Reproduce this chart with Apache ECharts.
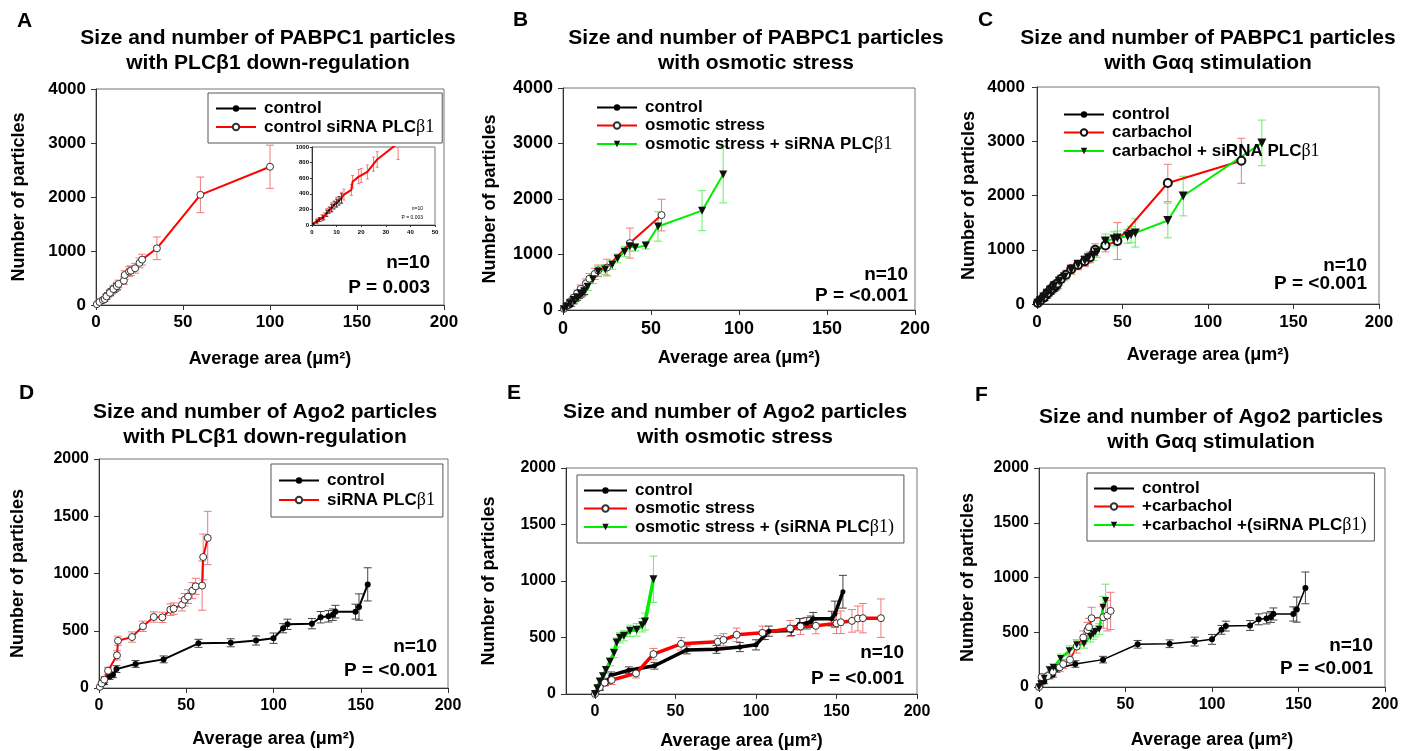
<!DOCTYPE html>
<html><head><meta charset="utf-8">
<script src="https://cdn.jsdelivr.net/npm/echarts@6/dist/echarts.min.js"></script>
<style>html,body{margin:0;padding:0;background:#fff;overflow:hidden}.p{position:absolute;left:0;top:0;width:1413px;height:751px}</style>
</head><body>
<div id="cA" class="p"></div><div id="cB" class="p"></div><div id="cC" class="p"></div>
<div id="cD" class="p"></div><div id="cE" class="p"></div><div id="cF" class="p"></div>
<script>
// ---------- tick labels ----------
const xTicks = [0, 50, 100, 150, 200];
const yTicksPab = [0, 1000, 2000, 3000, 4000];
const yTicksAgo = [0, 500, 1000, 1500, 2000];
const insetXTicks = [0, 10, 20, 30, 40, 50];
const insetYTicks = [0, 200, 400, 600, 800, 1000];

// ---------- PABPC1 control (A, B, C) ----------
const pabCtrlX = [0.5, 2, 3, 4.5, 6, 7, 8, 9, 10, 11, 12];
const pabCtrlY = [15, 45, 70, 95, 150, 190, 220, 255, 280, 310, 340];
const pabCtrlE = [10, 20, 25, 30, 40, 40, 45, 50, 50, 55, 60];

// A: control siRNA PLCβ1
const aSiX = [0.5, 2, 4, 5, 6, 8, 10, 12, 13, 16, 16.5, 19, 20, 22.5, 25, 26.5, 35, 60, 100];
const aSiY = [15, 55, 90, 110, 160, 225, 295, 350, 390, 450, 555, 620, 635, 680, 780, 840, 1050, 2040, 2560];
const aSiE = [10, 30, 40, 45, 50, 60, 60, 70, 70, 70, 80, 90, 90, 90, 90, 100, 210, 330, 400];

// B: osmotic stress
const bOsmX = [0.5, 2, 4, 6, 8, 10, 13, 15, 18, 20, 25, 38, 56];
const bOsmY = [20, 80, 150, 220, 300, 380, 480, 565, 650, 710, 765, 1205, 1710];
const bOsmE = [10, 30, 40, 50, 60, 70, 80, 90, 100, 100, 150, 270, 285];
// B: osmotic stress + siRNA PLCβ1
const bOsmSiX = [0.5, 2, 4, 6, 8, 10, 12, 14, 17, 20, 24, 28, 31, 35, 38, 41, 47, 54, 79, 91];
const bOsmSiY = [15, 60, 120, 180, 230, 300, 340, 420, 555, 690, 730, 815, 930, 1050, 1150, 1125, 1160, 1505, 1790, 2440];
const bOsmSiE = [10, 30, 40, 50, 60, 60, 70, 70, 80, 90, 90, 80, 80, 90, 90, 60, 60, 265, 360, 510];

// C: carbachol
const cCarbX = [0.5, 2, 4, 6, 8, 10, 12, 14, 17, 20, 24, 28, 31, 34, 40, 47, 76.5, 119.5];
const cCarbY = [20, 70, 130, 200, 270, 340, 380, 460, 540, 640, 720, 790, 860, 1000, 1080, 1160, 2230, 2640];
const cCarbE = [10, 30, 40, 50, 60, 60, 70, 70, 80, 90, 90, 100, 100, 110, 120, 340, 345, 415];
// C: carbachol + siRNA PLCβ1
const cCarbSiX = [0.5, 2, 4, 6, 8, 10, 13, 16, 20, 24, 28, 30, 33, 35, 40, 45, 47, 53, 55, 57.5, 76.5, 85.5, 131.5];
const cCarbSiY = [15, 60, 130, 200, 260, 330, 420, 500, 630, 730, 800, 850, 900, 960, 1160, 1200, 1215, 1250, 1280, 1310, 1540, 1990, 2970];
const cCarbSiE = [10, 30, 40, 50, 60, 60, 70, 70, 80, 80, 90, 90, 100, 100, 130, 130, 130, 130, 150, 260, 320, 365, 420];

// ---------- Ago2 control (D, E, F) ----------
const agoCtrlX = [0.5, 3, 6, 8, 10, 21, 37, 57, 75.5, 90, 100, 105.5, 108, 122, 127, 131.5, 134, 135.5, 147, 149, 154];
const agoCtrlY = [10, 50, 100, 115, 165, 210, 250, 390, 395, 415, 435, 522, 556, 562, 618, 626, 640, 667, 667, 707, 905];
const agoCtrlE = [10, 20, 25, 25, 30, 30, 30, 35, 35, 40, 45, 40, 45, 45, 50, 50, 50, 55, 65, 115, 145];

// D: siRNA PLCβ1
const dSiX = [0.5, 1.5, 3, 5.2, 10.3, 10.9, 18.9, 25.2, 31.4, 36.3, 40.9, 42.8, 47.6, 49.1, 51, 53.5, 55.4, 59.1, 59.7, 62.3];
const dSiY = [10, 40, 73, 151, 285, 413, 445, 539, 620, 617, 684, 693, 728, 771, 798, 850, 888, 894, 1144, 1310];
const dSiE = [10, 20, 25, 30, 40, 40, 45, 45, 45, 45, 50, 50, 55, 55, 60, 70, 70, 215, 200, 233];

// E: osmotic stress
const eOsmX = [0, 3, 6, 10.4, 25.5, 36.3, 53.5, 76.3, 79.8, 88, 104, 121.2, 127.7, 137.2, 150, 152.7, 159.6, 163.3, 166.4, 177.6];
const eOsmY = [0, 60, 100, 124, 182, 353, 444, 462, 479, 524, 541, 580, 597, 603, 625, 635, 647, 668, 671, 671];
const eOsmE = [5, 20, 30, 40, 40, 50, 55, 55, 55, 60, 60, 70, 70, 70, 90, 100, 100, 110, 130, 170];
// E: osmotic stress + (siRNA PLCβ1)
const eOsmSiX = [0, 1.5, 3, 5, 6.8, 9.3, 11.8, 13.5, 15.5, 18, 21.8, 25.9, 29.4, 31.1, 36.3];
const eOsmSiY = [0, 50, 110, 156, 212, 285, 362, 456, 497, 515, 559, 568, 609, 641, 1015];
const eOsmSiE = [5, 20, 25, 30, 30, 35, 40, 40, 45, 45, 50, 55, 60, 75, 205];

// F: +carbachol
const fCarbX = [0, 1.5, 5, 8, 12, 14, 17.9, 21.8, 25.6, 28, 28.9, 30.4, 37.2, 39.5, 41.4];
const fCarbY = [0, 91, 100, 140, 180, 210, 249, 370, 452, 520, 546, 628, 637, 652, 695];
const fCarbE = [5, 20, 25, 30, 40, 40, 50, 60, 60, 70, 80, 100, 100, 140, 170];
// F: +carbachol +(siRNA PLCβ1)
const fCarbSiX = [0, 1, 3, 6, 8.3, 12.5, 17.5, 21.8, 26, 29.8, 31.4, 32.7, 34.8, 37, 38.5];
const fCarbSiY = [0, 30, 80, 158, 179, 261, 331, 385, 395, 461, 486, 507, 528, 728, 789];
const fCarbSiE = [5, 15, 25, 30, 35, 40, 45, 45, 40, 50, 50, 50, 50, 100, 150];

// ---------- helpers ----------
const FONT = '"Liberation Sans", Arial, Helvetica, sans-serif';
const RED = '#ff0000', GREEN = '#00ee00', RED_E = '#f27a7a', GREEN_E = '#66f066', BLK_E = '#444';
const plain = function (v) { return String(v); };

function errSeries(xs, ys, es, color, xi, yi, capW) {
  const w = capW || 4;
  return {
    type: 'custom', name: '_err', xAxisIndex: xi || 0, yAxisIndex: yi || 0, clip: true, z: 2,
    silent: true, animation: false, data: xs.map((x, i) => [x, ys[i], es[i]]), encode: { x: 0, y: 1 },
    renderItem: function (params, api) {
      const x = api.value(0), y = api.value(1), e = api.value(2);
      const lo = api.coord([x, y - e]), hi = api.coord([x, y + e]);
      const st = { stroke: color, lineWidth: 1 };
      return { type: 'group', children: [
        { type: 'line', shape: { x1: lo[0], y1: lo[1], x2: hi[0], y2: hi[1] }, style: st },
        { type: 'line', shape: { x1: lo[0] - w, y1: lo[1], x2: lo[0] + w, y2: lo[1] }, style: st },
        { type: 'line', shape: { x1: hi[0] - w, y1: hi[1], x2: hi[0] + w, y2: hi[1] }, style: st }
      ] };
    }
  };
}
function lineSeries(name, xs, ys, s, xi, yi) {
  return {
    type: 'line', name: name, xAxisIndex: xi || 0, yAxisIndex: yi || 0,
    data: xs.map((x, i) => [x, ys[i]]), symbol: s.symbol || 'circle', symbolSize: s.size,
    symbolRotate: s.rot || 0, showSymbol: true, showAllSymbol: true, clip: true,
    lineStyle: { color: s.color, width: s.width },
    itemStyle: { color: s.fill, borderColor: s.border || s.fill, borderWidth: s.bw || 0 },
    z: 3, animation: false, emphasis: { disabled: true }
  };
}
function xAxis(gi, c) {
  const ax = {
    type: 'value', gridIndex: gi, min: c.xmin, max: c.xmax, interval: c.xint,
    axisLine: { show: true, onZero: false, lineStyle: { color: '#333', width: 1 } },
    axisTick: { show: true, length: c.tickLen || 5, lineStyle: { color: '#333' } },
    splitLine: { show: false },
    axisLabel: { fontFamily: FONT, fontWeight: 'bold', fontSize: c.fs, color: '#000', margin: c.xlm || 8, formatter: plain },
    name: c.xname || '', nameLocation: 'middle', nameGap: c.xng || 40,
    nameTextStyle: { fontFamily: FONT, fontWeight: 'bold', fontSize: c.nfs || 18, color: '#000' }
  };
  if (c.xCustom) { ax.axisLabel.customValues = c.xCustom; ax.axisTick.customValues = c.xCustom; delete ax.interval; }
  return ax;
}
function yAxis(gi, c) {
  return {
    type: 'value', gridIndex: gi, min: c.ymin || 0, max: c.ymax, interval: c.yint,
    axisLine: { show: true, onZero: false, lineStyle: { color: '#333', width: 1 } },
    axisTick: { show: true, length: c.tickLen || 5, lineStyle: { color: '#333' } },
    splitLine: { show: false },
    axisLabel: { fontFamily: FONT, fontWeight: 'bold', fontSize: c.fs, color: '#000', margin: c.ylm || 8, formatter: plain },
    name: c.yname || '', nameLocation: 'middle', nameGap: c.yng || 60,
    nameTextStyle: { fontFamily: FONT, fontWeight: 'bold', fontSize: c.nfs || 18, color: '#000' }
  };
}
function grid(g) {
  return { left: g[0], top: g[1], width: g[2], height: g[3], show: true, borderColor: '#777', borderWidth: 1, backgroundColor: 'transparent', containLabel: false };
}
function legend(l) {
  return {
    orient: 'vertical', left: l.left, top: l.top, itemWidth: l.iw || 40, itemHeight: l.ih || 8, itemGap: l.gap,
    padding: l.pad, borderColor: l.border ? '#555' : 'transparent', borderWidth: l.border ? 1 : 0,
    backgroundColor: l.border ? '#fff' : 'transparent', selectedMode: false, data: l.names, z: 10,
    textStyle: { fontFamily: FONT, fontWeight: 'bold', fontSize: l.fs || 17, color: '#000', padding: [0, 0, 0, l.tpad || 3],
      rich: { g: { fontFamily: '"Liberation Serif", "Times New Roman", serif', fontWeight: 'normal', fontSize: (l.fs || 17) + 1, color: '#000' } } },
    formatter: function (n) { return n.replace(/β1\)?/, function (m) { return '{g|' + m + '}'; }); }
  };
}
function txt(x, y, s, font, align, vAlign, lh) {
  return { type: 'text', x: x, y: y, z: 20, silent: true,
    style: { text: s, font: font, fill: '#000', textAlign: align || 'left', textVerticalAlign: vAlign || 'middle', lineHeight: lh } };
}
function stats(xr, y1, y2, p, fs) {
  const f = 'bold ' + (fs || 19) + 'px ' + FONT;
  return [txt(xr, y1, 'n=10', f, 'right'), txt(xr, y2, p, f, 'right')];
}
function title(cx, top, s, fs) {
  return txt(cx, top, s, 'bold ' + (fs || 21) + 'px ' + FONT, 'center', 'top', 25);
}
function letter(x, y, s) { return txt(x, y, s, 'bold 21px ' + FONT, 'left', 'middle'); }

const XNAME = 'Average area (μm²)', YNAME = 'Number of particles';
const ctrlStyleSmall = { color: '#000', width: 1.5, fill: '#000', size: 5 };

// ---------- Panel A ----------
const optA = {
  animation: false,
  grid: [grid([96, 89, 348, 216]), grid([312, 147, 123, 78])],
  xAxis: [
    xAxis(0, { xmin: 0, xmax: 200, xint: 50, fs: 17, xname: XNAME, xng: 45, xlm: 9 }),
    xAxis(1, { xmin: 0, xmax: 50, xint: 10, fs: 6, tickLen: 2, xlm: 4 })
  ],
  yAxis: [
    yAxis(0, { ymax: 4000, yint: 1000, fs: 17, yname: YNAME, yng: 68, ylm: 10 }),
    yAxis(1, { ymax: 1000, yint: 200, fs: 6, tickLen: 2, ylm: 3 })
  ],
  legend: [legend({ left: 208, top: 93, gap: 1, pad: [7, 8, 7, 7], border: true, names: ['control', 'control siRNA PLCβ1'] })],
  series: [
    errSeries(aSiX, aSiY, aSiE, RED_E, 0, 0),
    errSeries(pabCtrlX, pabCtrlY, pabCtrlE, BLK_E, 0, 0),
    lineSeries('control', pabCtrlX, pabCtrlY, ctrlStyleSmall, 0, 0),
    lineSeries('control siRNA PLCβ1', aSiX, aSiY, { color: RED, width: 2, fill: '#fff', border: '#333', bw: 1, size: 7 }, 0, 0),
    errSeries(aSiX, aSiY, aSiE, RED_E, 1, 1, 1.5),
    errSeries(pabCtrlX, pabCtrlY, pabCtrlE, BLK_E, 1, 1, 1.5),
    lineSeries('control', pabCtrlX, pabCtrlY, { color: '#000', width: 1.5, fill: '#000', size: 2 }, 1, 1),
    lineSeries('control siRNA PLCβ1', aSiX, aSiY, { color: RED, width: 2, symbol: 'none', fill: RED, size: 0 }, 1, 1)
  ],
  graphic: [letter(17, 21, 'A'), title(268, 26, 'Size and number of PABPC1 particles\nwith PLCβ1 down-regulation'),
    ...stats(430, 263, 288, 'P = 0.003'),
    txt(423, 209, 'n=10', '5px ' + FONT, 'right'), txt(423, 218, 'P = 0.003', '5px ' + FONT, 'right')]
};

// ---------- Panel B ----------
const optB = {
  animation: false,
  grid: [grid([563, 88, 352, 222])],
  xAxis: [xAxis(0, { xmin: 0, xmax: 200, xint: 50, fs: 18, xname: XNAME, xng: 39, xlm: 10 })],
  yAxis: [yAxis(0, { ymax: 4000, yint: 1000, fs: 18, yname: YNAME, yng: 64, ylm: 10 })],
  legend: [legend({ left: 596, top: 99, gap: 1, pad: 0, border: false, names: ['control', 'osmotic stress', 'osmotic stress + siRNA PLCβ1'] })],
  series: [
    errSeries(bOsmSiX, bOsmSiY, bOsmSiE, GREEN_E),
    errSeries(bOsmX, bOsmY, bOsmE, RED_E),
    errSeries(pabCtrlX, pabCtrlY, pabCtrlE, BLK_E),
    lineSeries('control', pabCtrlX, pabCtrlY, ctrlStyleSmall),
    lineSeries('osmotic stress', bOsmX, bOsmY, { color: RED, width: 2, fill: '#fff', border: '#333', bw: 1, size: 7 }),
    lineSeries('osmotic stress + siRNA PLCβ1', bOsmSiX, bOsmSiY, { color: GREEN, width: 2, symbol: 'triangle', rot: 180, fill: '#111', size: 8 })
  ],
  graphic: [letter(513, 20, 'B'), title(756, 26, 'Size and number of PABPC1 particles\nwith osmotic stress'),
    ...stats(908, 275, 296, 'P = <0.001')]
};

// ---------- Panel C ----------
const optC = {
  animation: false,
  grid: [grid([1037, 87, 342, 217])],
  xAxis: [xAxis(0, { xmin: 0, xmax: 200, xint: 50, fs: 17, xname: XNAME, xng: 42, xlm: 10 })],
  yAxis: [yAxis(0, { ymax: 4000, yint: 1000, fs: 17, yname: YNAME, yng: 59, ylm: 12 })],
  legend: [legend({ left: 1063, top: 106, gap: 1, pad: 0, border: false, names: ['control', 'carbachol', 'carbachol + siRNA PLCβ1'] })],
  series: [
    errSeries(cCarbSiX, cCarbSiY, cCarbSiE, GREEN_E),
    errSeries(cCarbX, cCarbY, cCarbE, RED_E),
    errSeries(pabCtrlX, pabCtrlY, pabCtrlE, BLK_E),
    lineSeries('control', pabCtrlX, pabCtrlY, { color: '#000', width: 2, fill: '#000', size: 7 }),
    lineSeries('carbachol', cCarbX, cCarbY, { color: RED, width: 2, fill: '#fff', border: '#111', bw: 2, size: 8 }),
    lineSeries('carbachol + siRNA PLCβ1', cCarbSiX, cCarbSiY, { color: GREEN, width: 2, symbol: 'triangle', rot: 180, fill: '#111', size: 9 })
  ],
  graphic: [letter(978, 20, 'C'), title(1208, 26, 'Size and number of PABPC1 particles\nwith Gαq stimulation'),
    ...stats(1367, 266, 284, 'P = <0.001')]
};

// ---------- Panel D ----------
const optD = {
  animation: false,
  grid: [grid([99, 459, 349, 229])],
  xAxis: [xAxis(0, { xmin: 0, xmax: 200, xint: 50, fs: 16, xname: XNAME, xng: 42, xlm: 10 })],
  yAxis: [yAxis(0, { ymax: 2000, yint: 500, fs: 16, yname: YNAME, yng: 72, ylm: 10 })],
  legend: [legend({ left: 271, top: 464, gap: 2, pad: [8, 8, 8, 7], border: true, names: ['control', 'siRNA PLCβ1'] })],
  series: [
    errSeries(dSiX, dSiY, dSiE, RED_E),
    errSeries(agoCtrlX, agoCtrlY, agoCtrlE, BLK_E),
    lineSeries('control', agoCtrlX, agoCtrlY, { color: '#000', width: 2, fill: '#000', size: 6 }),
    lineSeries('siRNA PLCβ1', dSiX, dSiY, { color: RED, width: 2, fill: '#fff', border: '#333', bw: 1, size: 7 })
  ],
  graphic: [letter(19, 393, 'D'), title(265, 400, 'Size and number of Ago2 particles\nwith PLCβ1 down-regulation'),
    ...stats(437, 647, 671, 'P = <0.001')]
};

// ---------- Panel E ----------
const optE = {
  animation: false,
  grid: [grid([566, 468, 351, 227])],
  xAxis: [xAxis(0, { xmin: -18, xmax: 200, xint: 50, xCustom: xTicks, fs: 16, xname: XNAME, xng: 38, xlm: 10 })],
  yAxis: [yAxis(0, { ymax: 2000, yint: 500, fs: 16, yname: YNAME, yng: 68, ylm: 10 })],
  legend: [legend({ left: 577, top: 475, iw: 43, gap: 1, pad: [7, 10, 7, 6], border: true, names: ['control', 'osmotic stress', 'osmotic stress + (siRNA PLCβ1)'] })],
  series: [
    errSeries(eOsmX, eOsmY, eOsmE, RED_E),
    errSeries(eOsmSiX, eOsmSiY, eOsmSiE, GREEN_E),
    errSeries(agoCtrlX, agoCtrlY, agoCtrlE, BLK_E),
    lineSeries('control', agoCtrlX, agoCtrlY, { color: '#000', width: 3.5, fill: '#000', size: 5 }),
    lineSeries('osmotic stress', eOsmX, eOsmY, { color: RED, width: 3.5, fill: '#fff', border: '#333', bw: 1, size: 7 }),
    lineSeries('osmotic stress + (siRNA PLCβ1)', eOsmSiX, eOsmSiY, { color: GREEN, width: 3.5, symbol: 'triangle', rot: 180, fill: '#111', size: 8 })
  ],
  graphic: [letter(507, 393, 'E'), title(735, 400, 'Size and number of Ago2 particles\nwith osmotic stress'),
    ...stats(904, 653, 679, 'P = <0.001')]
};

// ---------- Panel F ----------
const optF = {
  animation: false,
  grid: [grid([1039, 468, 346, 219])],
  xAxis: [xAxis(0, { xmin: 0, xmax: 200, xint: 50, fs: 16, xname: XNAME, xng: 44, xlm: 10 })],
  yAxis: [yAxis(0, { ymax: 2000, yint: 500, fs: 16, yname: YNAME, yng: 62, ylm: 10 })],
  legend: [legend({ left: 1087, top: 473, gap: 1, pad: [7, 8, 7, 6], border: true, names: ['control', '+carbachol', '+carbachol +(siRNA PLCβ1)'] })],
  series: [
    errSeries(fCarbX, fCarbY, fCarbE, RED_E),
    errSeries(fCarbSiX, fCarbSiY, fCarbSiE, GREEN_E),
    errSeries(agoCtrlX, agoCtrlY, agoCtrlE, BLK_E),
    lineSeries('control', agoCtrlX, agoCtrlY, { color: '#000', width: 1.5, fill: '#000', size: 6 }),
    lineSeries('+carbachol', fCarbX, fCarbY, { color: RED, width: 1.5, fill: '#fff', border: '#333', bw: 1, size: 7 }),
    lineSeries('+carbachol +(siRNA PLCβ1)', fCarbSiX, fCarbSiY, { color: GREEN, width: 2.5, symbol: 'triangle', rot: 180, fill: '#111', size: 7 })
  ],
  graphic: [letter(975, 395, 'F'), title(1211, 405, 'Size and number of Ago2 particles\nwith Gαq stimulation'),
    ...stats(1373, 646, 669, 'P = <0.001')]
};

[['cA', optA], ['cB', optB], ['cC', optC], ['cD', optD], ['cE', optE], ['cF', optF]].forEach(function (p) {
  const ch = echarts.init(document.getElementById(p[0]), null, { renderer: 'canvas' });
  ch.setOption(p[1]);
});
</script>
</body></html>
